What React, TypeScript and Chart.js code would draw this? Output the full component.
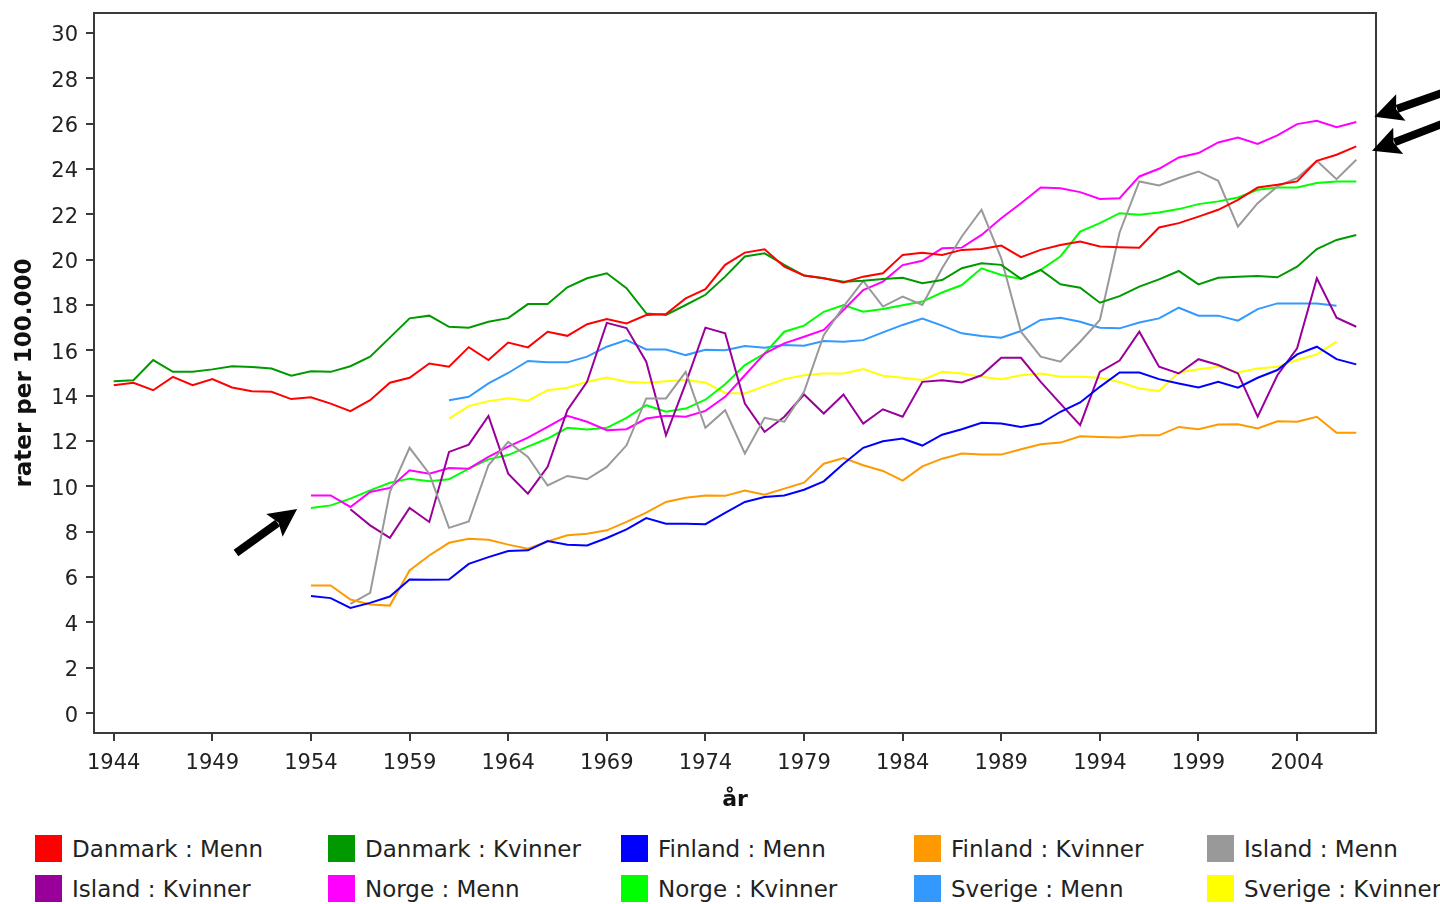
import React, { useEffect, useRef } from "react";
import { Chart, registerables } from "chart.js";

Chart.register(...registerables);

// ---------------- data ----------------
const YEARS = [
  1944, 1945, 1946, 1947, 1948, 1949, 1950, 1951, 1952, 1953,
  1954, 1955, 1956, 1957, 1958, 1959, 1960, 1961, 1962, 1963,
  1964, 1965, 1966, 1967, 1968, 1969, 1970, 1971, 1972, 1973,
  1974, 1975, 1976, 1977, 1978, 1979, 1980, 1981, 1982, 1983,
  1984, 1985, 1986, 1987, 1988, 1989, 1990, 1991, 1992, 1993,
  1994, 1995, 1996, 1997, 1998, 1999, 2000, 2001, 2002, 2003,
  2004, 2005, 2006, 2007,
];

const X_TICKS = [1944, 1949, 1954, 1959, 1964, 1969, 1974, 1979, 1984, 1989, 1994, 1999, 2004];
const Y_TICKS = [0, 2, 4, 6, 8, 10, 12, 14, 16, 18, 20, 22, 24, 26, 28, 30];

const SERIES_NAMES = [
  "Danmark : Menn",
  "Danmark : Kvinner",
  "Finland : Menn",
  "Finland : Kvinner",
  "Island : Menn",
  "Island : Kvinner",
  "Norge : Menn",
  "Norge : Kvinner",
  "Sverige : Menn",
  "Sverige : Kvinner",
];

const SERIES_COLORS = [
  "#ff0000",
  "#009900",
  "#0000ff",
  "#ff9900",
  "#999999",
  "#990099",
  "#ff00ff",
  "#00ff00",
  "#3399ff",
  "#ffff00",
];

const DANMARK_MENN = [
  14.46, 14.57, 14.24, 14.83, 14.46, 14.73, 14.36, 14.2, 14.17, 13.85,
  13.93, 13.65, 13.32, 13.8, 14.57, 14.79, 15.42, 15.28, 16.14, 15.57,
  16.34, 16.13, 16.82, 16.64, 17.15, 17.38, 17.19, 17.56, 17.6, 18.29,
  18.7, 19.77, 20.31, 20.46, 19.69, 19.3, 19.18, 18.99, 19.25, 19.4,
  20.21, 20.3, 20.21, 20.43, 20.47, 20.62, 20.11, 20.43, 20.65, 20.8,
  20.58, 20.55, 20.53, 21.42, 21.61, 21.9, 22.2, 22.64, 23.18, 23.3,
  23.45, 24.36, 24.63, 25.0,
];

const DANMARK_KVINNER = [
  14.64, 14.68, 15.57, 15.05, 15.05, 15.16, 15.3, 15.27, 15.2, 14.88,
  15.08, 15.05, 15.3, 15.72, 16.56, 17.41, 17.53, 17.04, 17.0, 17.26,
  17.42, 18.04, 18.04, 18.78, 19.18, 19.4, 18.74, 17.63, 17.56, 18.0,
  18.45, 19.25, 20.14, 20.28, 19.77, 19.3, 19.18, 19.03, 19.07, 19.15,
  19.2, 18.96, 19.1, 19.62, 19.84, 19.77, 19.15, 19.55, 18.91, 18.76,
  18.1, 18.39, 18.81, 19.13, 19.5, 18.91, 19.2, 19.25, 19.28, 19.22,
  19.69, 20.47, 20.87, 21.09,
];

const FINLAND_MENN = [
  null, null, null, null, null, null, null, null, null, null,
  5.16, 5.07, 4.64, 4.86, 5.14, 5.89, 5.88, 5.89, 6.58, 6.88,
  7.15, 7.18, 7.59, 7.42, 7.39, 7.72, 8.1, 8.6, 8.35, 8.35,
  8.33, 8.83, 9.31, 9.53, 9.6, 9.85, 10.22, 11.0, 11.7, 11.99,
  12.11, 11.8, 12.28, 12.52, 12.8, 12.77, 12.62, 12.77, 13.29, 13.7,
  14.39, 15.02, 15.02, 14.73, 14.54, 14.36, 14.61, 14.35, 14.79, 15.13,
  15.82, 16.16, 15.61, 15.38,
];

const FINLAND_KVINNER = [
  null, null, null, null, null, null, null, null, null, null,
  5.63, 5.63, 5.01, 4.79, 4.74, 6.29, 6.95, 7.51, 7.69, 7.64,
  7.43, 7.25, 7.57, 7.84, 7.91, 8.06, 8.43, 8.84, 9.31, 9.5,
  9.6, 9.58, 9.82, 9.63, 9.9, 10.16, 11.0, 11.25, 10.93, 10.68,
  10.25, 10.88, 11.22, 11.45, 11.4, 11.4, 11.64, 11.86, 11.93, 12.21,
  12.18, 12.16, 12.25, 12.25, 12.62, 12.52, 12.73, 12.74, 12.55, 12.87,
  12.85, 13.07, 12.36, 12.36,
];

const ISLAND_MENN = [
  null, null, null, null, null, null, null, null, null, null,
  null, null, 4.82, 5.3, 9.75, 11.7, 10.56, 8.17, 8.45, 10.93,
  11.96, 11.3, 10.04, 10.46, 10.31, 10.86, 11.81, 13.88, 13.88, 15.05,
  12.58, 13.36, 11.45, 13.02, 12.85, 14.17, 16.67, 17.93, 19.06, 17.93,
  18.37, 18.0, 19.62, 21.02, 22.2, 20.06, 16.82, 15.72, 15.5, 16.38,
  17.34, 21.2, 23.45, 23.27, 23.6, 23.89, 23.48, 21.46, 22.49, 23.23,
  23.6, 24.36, 23.55, 24.41,
];

const ISLAND_KVINNER = [
  null, null, null, null, null, null, null, null, null, null,
  null, null, 8.99, 8.28, 7.73, 9.05, 8.43, 11.52, 11.84, 13.11,
  10.56, 9.68, 10.86, 13.36, 14.61, 17.21, 16.98, 15.5, 12.25, 14.54,
  17.0, 16.75, 13.65, 12.4, 13.07, 14.05, 13.21, 14.05, 12.77, 13.4,
  13.07, 14.61, 14.68, 14.58, 14.9, 15.67, 15.67, 14.61, 13.65, 12.7,
  15.05, 15.55, 16.82, 15.28, 14.98, 15.61, 15.35, 14.98, 13.07, 14.9,
  16.09, 19.18, 17.44, 17.04,
];

const NORGE_MENN = [
  null, null, null, null, null, null, null, null, null, null,
  9.6, 9.6, 9.09, 9.75, 9.93, 10.71, 10.56, 10.81, 10.78, 11.3,
  11.75, 12.15, 12.62, 13.11, 12.85, 12.48, 12.52, 12.99, 13.11, 13.07,
  13.33, 13.95, 14.9, 15.86, 16.31, 16.6, 16.9, 17.78, 18.66, 19.03,
  19.76, 19.95, 20.5, 20.53, 21.09, 21.83, 22.49, 23.18, 23.15, 22.98,
  22.68, 22.71, 23.67, 24.01, 24.51, 24.7, 25.17, 25.39, 25.1, 25.48,
  25.98, 26.13, 25.84, 26.07,
];

const NORGE_KVINNER = [
  null, null, null, null, null, null, null, null, null, null,
  9.05, 9.16, 9.46, 9.82, 10.16, 10.34, 10.22, 10.31, 10.78, 11.19,
  11.38, 11.75, 12.11, 12.58, 12.51, 12.58, 13.02, 13.58, 13.29, 13.43,
  13.82, 14.5, 15.35, 15.86, 16.82, 17.09, 17.7, 18.0, 17.7, 17.82,
  17.99, 18.15, 18.55, 18.88, 19.62, 19.32, 19.15, 19.55, 20.14, 21.24,
  21.61, 22.05, 21.98, 22.08, 22.23, 22.45, 22.57, 22.74, 23.08, 23.18,
  23.18, 23.38, 23.45, 23.45,
];

const SVERIGE_MENN = [
  null, null, null, null, null, null, null, null, null, null,
  null, null, null, null, null, null, null, 13.8, 13.95, 14.54,
  15.0, 15.53, 15.47, 15.47, 15.72, 16.16, 16.45, 16.04, 16.04, 15.79,
  16.02, 16.0, 16.19, 16.11, 16.23, 16.2, 16.41, 16.38, 16.45, 16.79,
  17.12, 17.4, 17.09, 16.75, 16.63, 16.56, 16.85, 17.34, 17.44, 17.26,
  17.0, 16.97, 17.23, 17.41, 17.88, 17.53, 17.53, 17.31, 17.82, 18.07,
  18.07, 18.07, 17.97, null,
];

const SVERIGE_KVINNER = [
  null, null, null, null, null, null, null, null, null, null,
  null, null, null, null, null, null, null, 12.99, 13.54, 13.76,
  13.89, 13.78, 14.24, 14.35, 14.61, 14.8, 14.61, 14.57, 14.64, 14.69,
  14.58, 14.12, 14.1, 14.42, 14.73, 14.9, 14.98, 14.98, 15.17, 14.88,
  14.79, 14.69, 15.05, 14.98, 14.83, 14.73, 14.9, 14.98, 14.83, 14.83,
  14.79, 14.6, 14.32, 14.21, 15.02, 15.17, 15.28, 15.02, 15.2, 15.28,
  15.57, 15.82, 16.38, null,
];

const SERIES_VALUES = [
  DANMARK_MENN,
  DANMARK_KVINNER,
  FINLAND_MENN,
  FINLAND_KVINNER,
  ISLAND_MENN,
  ISLAND_KVINNER,
  NORGE_MENN,
  NORGE_KVINNER,
  SVERIGE_MENN,
  SVERIGE_KVINNER,
];

const X_TITLE = "år";
const Y_TITLE = "rater per 100.000";

// annotation arrows, in data units (tail -> tip)
const ARROW_ANNOTATIONS = [
  { from: [1950.2, 7.06], to: [1953.3, 9.0] },
  { from: [2012.0, 27.55], to: [2007.92, 26.3] },
  { from: [2012.0, 26.2], to: [2007.8, 24.8] },
];

const FONT = "'DejaVu Sans', Verdana, sans-serif";
const AXIS_COLOR = "#3a3a3a";

function drawArrow(ctx: CanvasRenderingContext2D, x1: number, y1: number, x2: number, y2: number) {
  const ang = Math.atan2(y2 - y1, x2 - x1);
  const ux = Math.cos(ang);
  const uy = Math.sin(ang);
  const px = -uy;
  const py = ux;
  const headLen = 28;
  const headHalf = 14;
  const bx = x2 - ux * headLen;
  const by = y2 - uy * headLen;
  ctx.save();
  ctx.strokeStyle = "#000";
  ctx.fillStyle = "#000";
  ctx.lineWidth = 8;
  ctx.lineCap = "butt";
  ctx.beginPath();
  ctx.moveTo(x1, y1);
  ctx.lineTo(bx + ux * 4, by + uy * 4);
  ctx.stroke();
  ctx.beginPath();
  ctx.moveTo(x2, y2);
  ctx.lineTo(bx + px * headHalf, by + py * headHalf);
  ctx.lineTo(bx + ux * 5, by + uy * 5);
  ctx.lineTo(bx - px * headHalf, by - py * headHalf);
  ctx.closePath();
  ctx.fill();
  ctx.restore();
}

const frameAndArrows = {
  id: "frameAndArrows",
  afterDraw(chart: any) {
    const { ctx, chartArea, scales } = chart;
    ctx.save();
    ctx.strokeStyle = AXIS_COLOR;
    ctx.lineWidth = 2;
    ctx.strokeRect(chartArea.left, chartArea.top, chartArea.right - chartArea.left, chartArea.bottom - chartArea.top);
    ctx.restore();
    for (const a of ARROW_ANNOTATIONS) {
      const x1 = scales.x.getPixelForValue(a.from[0]);
      const y1 = scales.y.getPixelForValue(a.from[1]);
      const x2 = scales.x.getPixelForValue(a.to[0]);
      const y2 = scales.y.getPixelForValue(a.to[1]);
      drawArrow(ctx, x1, y1, x2, y2);
    }
  },
};

export default function App() {
  const canvasRef = useRef<HTMLCanvasElement | null>(null);

  useEffect(() => {
    if (!canvasRef.current) return;
    const datasets = SERIES_NAMES.map((name, i) => ({
      label: name,
      data: YEARS.map((yr, j) => ({ x: yr, y: SERIES_VALUES[i][j] })),
      borderColor: SERIES_COLORS[i],
      backgroundColor: SERIES_COLORS[i],
      borderWidth: 2,
      pointRadius: 0,
      pointHoverRadius: 0,
      tension: 0,
      spanGaps: false,
      fill: false,
    }));

    const chart = new Chart(canvasRef.current, {
      type: "line",
      data: { datasets },
      options: {
        animation: false,
        responsive: true,
        maintainAspectRatio: false,
        layout: { padding: { top: 13, right: 64, left: 0, bottom: 0 } },
        plugins: {
          legend: { display: false },
          tooltip: { enabled: false },
        },
        scales: {
          x: {
            type: "linear",
            min: 1943,
            max: 2008,
            afterBuildTicks: (s: any) => {
              s.ticks = X_TICKS.map((v) => ({ value: v }));
            },
            afterFit: (s: any) => {
              s.height = 87;
              s.paddingLeft = 0;
              s.paddingRight = 0;
            },
            ticks: {
              autoSkip: false,
              maxRotation: 0,
              padding: 10,
              color: "#222",
              font: { family: FONT, size: 21 },
              callback: (v: any) => String(v),
            },
            grid: {
              display: true,
              drawOnChartArea: false,
              drawTicks: true,
              tickLength: 8,
              color: AXIS_COLOR,
              lineWidth: 2,
            },
            border: { display: false },
            title: {
              display: true,
              text: X_TITLE,
              color: "#111",
              font: { family: FONT, size: 22, weight: "bold" },
              padding: { top: 0, bottom: 7 },
            },
          },
          y: {
            type: "linear",
            min: -0.88,
            max: 30.88,
            afterBuildTicks: (s: any) => {
              s.ticks = Y_TICKS.map((v) => ({ value: v }));
            },
            afterFit: (s: any) => {
              s.width = 94;
              s.paddingTop = 0;
              s.paddingBottom = 0;
            },
            ticks: {
              padding: 8,
              labelOffset: 3,
              color: "#222",
              font: { family: FONT, size: 21 },
              callback: (v: any) => String(v),
            },
            grid: {
              display: true,
              drawOnChartArea: false,
              drawTicks: true,
              tickLength: 8,
              color: AXIS_COLOR,
              lineWidth: 2,
            },
            border: { display: false },
            title: {
              display: true,
              text: Y_TITLE,
              color: "#111",
              font: { family: FONT, size: 23, weight: "bold" },
              padding: { top: 11, bottom: 0 },
            },
          },
        },
      },
      plugins: [frameAndArrows],
    } as any);

    return () => chart.destroy();
  }, []);

  return (
    <div
      style={{
        position: "absolute",
        left: 0,
        top: 0,
        width: 1440,
        height: 904,
        background: "#fff",
        overflow: "hidden",
      }}
    >
      <div style={{ position: "absolute", left: 0, top: 0, width: 1440, height: 820 }}>
        <canvas ref={canvasRef} />
      </div>
      <div
        style={{
          position: "absolute",
          left: 35,
          top: 835,
          display: "grid",
          gridTemplateColumns: "repeat(5, 293px)",
          rowGap: 13,
          fontFamily: FONT,
          fontSize: 23,
          color: "#222",
        }}
      >
        {SERIES_NAMES.map((name, i) => (
          <div key={name} style={{ display: "flex", alignItems: "center", height: 27, whiteSpace: "nowrap" }}>
            <span
              style={{
                display: "inline-block",
                width: 27,
                height: 27,
                background: SERIES_COLORS[i],
                marginRight: 10,
                flex: "0 0 auto",
              }}
            />
            <span>{name}</span>
          </div>
        ))}
      </div>
    </div>
  );
}
